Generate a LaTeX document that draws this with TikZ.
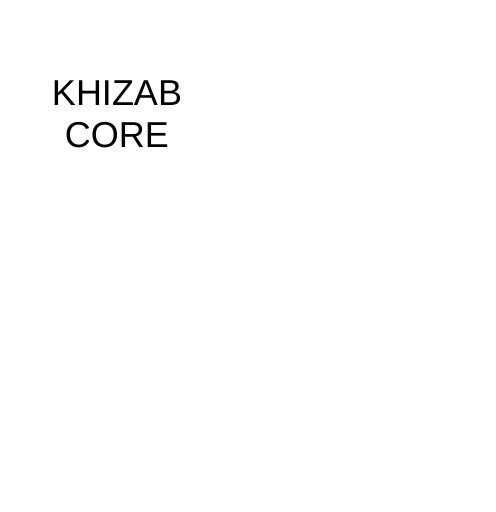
\documentclass[tikz,border=0pt]{standalone}
\usepackage{fontspec}
\setmainfont{Liberation Sans}
\usepackage{tikz}
\usetikzlibrary{positioning}
\definecolor{text_black}{RGB}{0,0,0}

\begin{document}
\begin{tikzpicture}[x=1bp,y=-1bp]
    \tikzstyle{label}=[align=center, inner sep=0pt, text=text_black, font=\fontsize{36bp}{42bp}\selectfont]

    \useasboundingbox (0,0) rectangle (496,512);
    \node[label] (core) at (117,114) {KHIZAB\\CORE};
  \end{tikzpicture}
\end{document}
